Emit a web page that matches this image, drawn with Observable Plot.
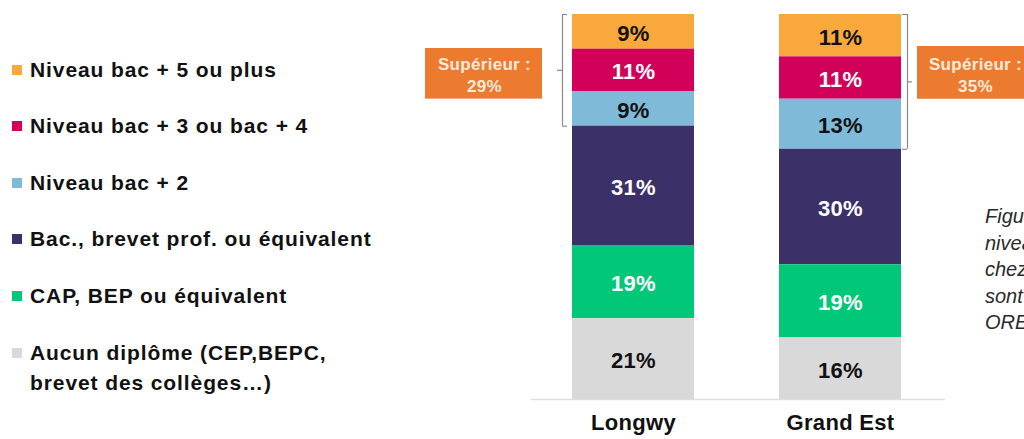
<!DOCTYPE html>
<html>
<head>
<meta charset="utf-8">
<script src="https://cdn.jsdelivr.net/npm/d3@7"></script>
<script src="https://cdn.jsdelivr.net/npm/@observablehq/plot@0.6"></script>
<style>
  html, body { margin: 0; padding: 0; background: #fff; }
  body { width: 1024px; height: 439px; position: relative; overflow: hidden; font-family: "Liberation Sans", Arial, sans-serif; }
  #chart { position: absolute; left: 0; top: 0; }
  #legend { position: absolute; left: 0; top: 0; }
  .item { position: absolute; left: 12px; font-weight: bold; font-size: 21px; letter-spacing: 0.9px; color: #111; white-space: pre; line-height: 30px; }
  .sw { position: absolute; left: 0; top: 10px; width: 10px; height: 10px; }
  .lab { position: absolute; left: 18px; top: 0; }
  #caption { position: absolute; left: 985px; top: 203px; font-family: "Liberation Sans Narrow", "Liberation Sans", Arial, sans-serif; font-style: italic; font-size: 20px; line-height: 26.5px; color: #2a2a2a; white-space: pre; }
</style>
</head>
<body>
<div id="chart"></div>
<div id="legend"></div>
<div id="caption"></div>
<script>
// ---- data ----
const regions = ["Longwy", "Grand Est"];
const levels = [
  "Niveau bac + 5 ou plus",
  "Niveau bac + 3 ou bac + 4",
  "Niveau bac + 2",
  "Bac., brevet prof. ou équivalent",
  "CAP, BEP ou équivalent",
  "Aucun diplôme (CEP,BEPC,\nbrevet des collèges…)"
];
const colors = ["#F9A93B", "#D3005A", "#7FBAD8", "#3B3067", "#00C878", "#D9D9D9"];
const longwy = [9, 11, 9, 31, 19, 21];
const grandEst = [11, 11, 13, 30, 19, 16];
const darkText = [true, false, true, false, false, true];
const superieur = [29, 35];
const supLabel = "Supérieur :";
const captionLines = ["Figure", "niveau", "chez", "sont", "OREF"];

// ---- tables ----
const values = [longwy, grandEst];
const table = [];
regions.forEach((r, ri) => levels.forEach((l, li) => table.push({region: r, level: l, value: values[ri][li], dark: darkText[li]})));
const bottomUp = levels.slice().reverse();
const sup = regions.map((r, i) => ({region: r, sup: superieur[i]}));
const supL = sup.filter(d => d.region === "Longwy");
const supG = sup.filter(d => d.region === "Grand Est");
const bracketEnds = s => s.flatMap(d => [{region: d.region, y: 100}, {region: d.region, y: 100 - d.sup}]);
const bracketMid = s => s.map(d => ({region: d.region, y: 100 - d.sup / 2}));

const stackOpts = {x: "region", y: "value", z: "level", order: bottomUp, text: d => d.value + "%"};
const bstroke = "#8a8a8a";

const chart = Plot.plot({
  width: 1024,
  height: 439,
  marginTop: 14,
  marginBottom: 40,
  marginLeft: 487,
  marginRight: 38,
  style: {fontFamily: "Liberation Sans, Arial, sans-serif", letterSpacing: "0.3px", background: "transparent", overflow: "visible"},
  x: {type: "band", domain: regions, padding: 0.41, axis: null},
  y: {domain: [0, 100], axis: null},
  color: {domain: levels, range: colors},
  marks: [
    Plot.ruleY([0], {stroke: "#dedede", strokeWidth: 1.5, insetLeft: 44, insetRight: 41}),
    Plot.barY(table, {x: "region", y: "value", fill: "level", z: "level", order: bottomUp}),
    Plot.text(table, Plot.filter(d => d.dark, Plot.stackY({...stackOpts, fill: "#111", fontSize: 22, fontWeight: "bold", dy: 2}))),
    Plot.text(table, Plot.filter(d => !d.dark, Plot.stackY({...stackOpts, fill: "#ffffff", fontSize: 22, fontWeight: "bold", dy: 2}))),
    // brackets
    Plot.ruleX(supL, {x: "region", y1: d => 100 - d.sup, y2: 100, dx: -71, stroke: bstroke, strokeWidth: 1.2}),
    Plot.tickY(bracketEnds(supL), {x: "region", y: "y", dx: -10, insetRight: 117, stroke: bstroke, strokeWidth: 1.2}),
    Plot.tickY(bracketMid(supL), {x: "region", y: "y", dx: -15, insetRight: 117, stroke: bstroke, strokeWidth: 1.2}),
    Plot.ruleX(supG, {x: "region", y1: d => 100 - d.sup, y2: 100, dx: 67, stroke: bstroke, strokeWidth: 1.2}),
    Plot.tickY(bracketEnds(supG), {x: "region", y: "y", dx: 6, insetLeft: 117, stroke: bstroke, strokeWidth: 1.2}),
    Plot.tickY(bracketMid(supG), {x: "region", y: "y", dx: 11, insetLeft: 117, stroke: bstroke, strokeWidth: 1.2}),
    // boxes
    Plot.rect(supL, {x: "region", y1: d => 100 - d.sup, y2: 100, dx: -147, insetRight: 5, insetTop: 34, insetBottom: 27, fill: "#EC7B2F"}),
    Plot.rect(supG, {x: "region", y1: d => 100 - d.sup, y2: 100, dx: 138, insetTop: 32, insetBottom: 50, fill: "#EC7B2F"}),
    Plot.text(supL, {x: "region", y: d => 100 - d.sup / 2, dx: -149, dy: 4, text: d => supLabel + "\n" + d.sup + "%", fill: "#FCEADB", fontSize: 17, fontWeight: "bold", lineHeight: 1.27}),
    Plot.text(supG, {x: "region", y: d => 100 - d.sup / 2, dx: 135, dy: -8, text: d => supLabel + "\n" + d.sup + "%", fill: "#FCEADB", fontSize: 17, fontWeight: "bold", lineHeight: 1.27}),
    Plot.axisX({tickSize: 0, tickPadding: 15, fontSize: 22, fontWeight: "bold", fill: "#111", label: null})
  ]
});
document.getElementById("chart").appendChild(chart);

// ---- legend ----
const legendY = [55, 111, 168, 224, 281, 338];
const legend = document.getElementById("legend");
levels.forEach((l, i) => {
  const it = document.createElement("div");
  it.className = "item";
  it.style.top = legendY[i] + "px";
  const sw = document.createElement("div");
  sw.className = "sw";
  sw.style.background = colors[i];
  const lab = document.createElement("div");
  lab.className = "lab";
  lab.textContent = l;
  it.appendChild(sw);
  it.appendChild(lab);
  legend.appendChild(it);
});
document.getElementById("caption").textContent = captionLines.join("\n");
</script>
</body>
</html>
